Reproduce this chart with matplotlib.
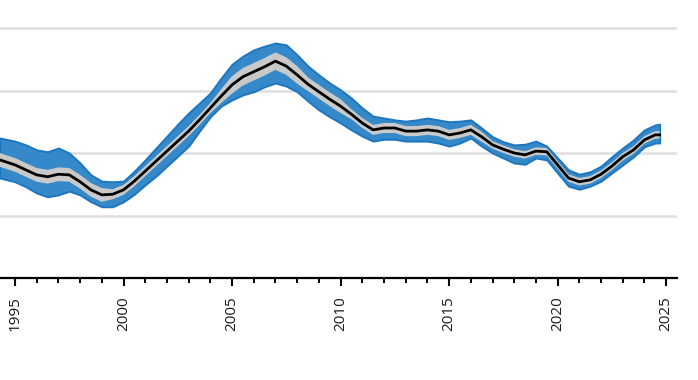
import numpy as np
import matplotlib
matplotlib.use("Agg")
import matplotlib.pyplot as plt
from matplotlib.ticker import MultipleLocator

# time axis (half-year steps) with estimate, outer interval and inner half-width
years = [1994.3] + list(np.arange(1995.0, 2024.75, 0.5)) + [2024.7]

estimate = [
    1.89, 1.81, 1.73, 1.65, 1.62, 1.66, 1.65, 1.54, 1.41, 1.33,
    1.34, 1.41, 1.55, 1.71, 1.87, 2.03, 2.19, 2.35, 2.53, 2.72,
    2.91, 3.09, 3.22, 3.30, 3.38, 3.47, 3.39, 3.25, 3.10, 2.98,
    2.86, 2.75, 2.62, 2.48, 2.37, 2.40, 2.40, 2.35, 2.35, 2.37,
    2.35, 2.29, 2.32, 2.37, 2.26, 2.13, 2.06, 2.00, 1.97, 2.03,
    2.02, 1.81, 1.60, 1.54, 1.57, 1.66, 1.79, 1.94, 2.05, 2.21,
    2.29, 2.29,
]

outer_hi = [
    2.24, 2.19, 2.13, 2.05, 2.02, 2.08, 2.00, 1.84, 1.65, 1.55,
    1.54, 1.55, 1.71, 1.89, 2.08, 2.27, 2.46, 2.64, 2.80, 2.96,
    3.20, 3.42, 3.55, 3.65, 3.71, 3.76, 3.73, 3.57, 3.39, 3.25,
    3.12, 3.01, 2.88, 2.72, 2.59, 2.56, 2.53, 2.51, 2.53, 2.56,
    2.53, 2.50, 2.51, 2.53, 2.40, 2.26, 2.18, 2.13, 2.14, 2.19,
    2.11, 1.92, 1.73, 1.66, 1.70, 1.79, 1.94, 2.08, 2.21, 2.37,
    2.45, 2.46,
]

outer_lo = [
    1.60, 1.54, 1.46, 1.36, 1.30, 1.33, 1.39, 1.33, 1.22, 1.14,
    1.14, 1.22, 1.34, 1.49, 1.63, 1.79, 1.95, 2.11, 2.35, 2.58,
    2.75, 2.85, 2.93, 2.98, 3.06, 3.12, 3.07, 2.98, 2.83, 2.69,
    2.58, 2.48, 2.37, 2.27, 2.19, 2.22, 2.22, 2.19, 2.19, 2.19,
    2.16, 2.11, 2.16, 2.24, 2.11, 2.00, 1.92, 1.84, 1.82, 1.92,
    1.89, 1.68, 1.47, 1.42, 1.47, 1.55, 1.68, 1.81, 1.94, 2.10,
    2.16, 2.16,
]

inner_half = [0.11] * 10 + [0.08] * 10 + [0.11] + [0.14] * 7 + [0.11] * 4 + [0.08] * 13 + [0.06] * 17

major_years = list(range(1995, 2030, 5))
grid_levels = [1, 2, 3, 4]

est = np.array(estimate)
half = np.array(inner_half)

fig = plt.figure(figsize=(6.98, 3.80), dpi=100)
ax = fig.add_axes([0.0, 102 / 380, 677 / 698, 278 / 380])

ax.fill_between(years, outer_lo, outer_hi, facecolor="#3589c9",
                edgecolor="#1f76c0", linewidth=1.4, joinstyle="round", zorder=2)
ax.fill_between(years, est - half, est + half, facecolor="#c9c9c9",
                edgecolor="none", zorder=3)
ax.plot(years, est, color="black", linewidth=2.0, solid_joinstyle="round", zorder=4)

ax.set_xlim(1994.31, 2025.5)
ax.set_ylim(0, 4.448)

ax.set_yticks(grid_levels)
ax.yaxis.grid(True, color="#dedede", linewidth=1.8)
ax.set_axisbelow(True)
ax.tick_params(axis="y", left=False, labelleft=False)

ax.set_xticks(major_years)
ax.xaxis.set_minor_locator(MultipleLocator(1))
ax.set_xticklabels([str(y) for y in major_years], rotation=90,
                   fontsize=11, family="Open Sans", color="#1a1a1a")
ax.tick_params(axis="x", which="major", length=6, width=1.5, pad=7)
ax.tick_params(axis="x", which="minor", length=3.8, width=1.4)

for side in ["left", "right", "top"]:
    ax.spines[side].set_visible(False)
ax.spines["bottom"].set_linewidth(1.6)

fig.savefig("out.png", dpi=100)
